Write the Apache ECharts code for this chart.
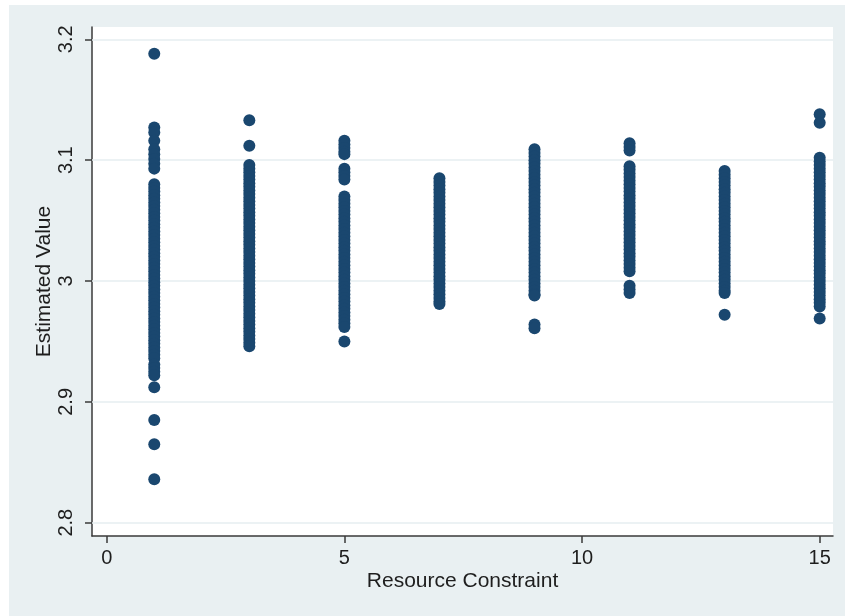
<!DOCTYPE html>
<html>
<head>
<meta charset="utf-8">
<script src="https://cdn.jsdelivr.net/npm/echarts@6/dist/echarts.min.js"></script>
<style>
  html, body { margin: 0; padding: 0; background: #ffffff; }
  #chart { position: absolute; left: 9px; top: 5px; width: 836px; height: 611px; }
</style>
</head>
<body>
<div id="chart"></div>
<script>
// Resource constraint levels (x positions of the columns)
const constraints = [1, 3, 5, 7, 9, 11, 13, 15];

// Estimated values read from each column
const val1 = [3.188, 3.127, 3.123, 3.116, 3.109, 3.105, 3.101, 3.097, 3.093,
  3.080, 3.077, 3.074, 3.071, 3.068, 3.065, 3.062, 3.059, 3.056, 3.053, 3.050, 3.047,
  3.044, 3.041, 3.038, 3.035, 3.032, 3.029, 3.026, 3.023, 3.020, 3.017, 3.014, 3.011,
  3.008, 3.005, 3.002, 2.999, 2.996, 2.993, 2.990, 2.987, 2.984, 2.981, 2.978, 2.975,
  2.972, 2.969, 2.966, 2.963, 2.960, 2.957, 2.954, 2.951, 2.948, 2.945, 2.942, 2.939,
  2.936, 2.931, 2.928, 2.925, 2.922, 2.912, 2.885, 2.865, 2.836];
const val3 = [3.133, 3.112, 3.096, 3.093, 3.090, 3.087, 3.084, 3.081, 3.078, 3.075,
  3.072, 3.069, 3.066, 3.063, 3.060, 3.057, 3.054, 3.051, 3.048, 3.045, 3.042, 3.039,
  3.036, 3.033, 3.030, 3.027, 3.024, 3.021, 3.018, 3.015, 3.012, 3.009, 3.006, 3.003,
  3.000, 2.997, 2.994, 2.991, 2.988, 2.985, 2.982, 2.979, 2.976, 2.973, 2.970, 2.967,
  2.964, 2.961, 2.958, 2.955, 2.952, 2.949, 2.946];
const val5 = [3.116, 3.113, 3.110, 3.107, 3.105, 3.093, 3.090, 3.087, 3.084,
  3.070, 3.067, 3.064, 3.061, 3.058, 3.055, 3.052, 3.049, 3.046, 3.043, 3.040, 3.037,
  3.034, 3.031, 3.028, 3.025, 3.022, 3.019, 3.016, 3.013, 3.010, 3.007, 3.004, 3.001,
  2.998, 2.995, 2.992, 2.989, 2.986, 2.983, 2.980, 2.977, 2.974, 2.971, 2.968, 2.965,
  2.962, 2.950];
const val7 = [3.085, 3.082, 3.079, 3.076, 3.073, 3.070, 3.067, 3.064, 3.061, 3.058,
  3.055, 3.052, 3.049, 3.046, 3.043, 3.040, 3.037, 3.034, 3.031, 3.028, 3.025, 3.022,
  3.019, 3.016, 3.013, 3.010, 3.007, 3.004, 3.001, 2.998, 2.995, 2.992, 2.989, 2.986,
  2.983, 2.981];
const val9 = [3.109, 3.106, 3.103, 3.100, 3.097, 3.094, 3.091, 3.088, 3.085, 3.082,
  3.079, 3.076, 3.073, 3.070, 3.067, 3.064, 3.061, 3.058, 3.055, 3.052, 3.049, 3.046,
  3.043, 3.040, 3.037, 3.034, 3.031, 3.028, 3.025, 3.022, 3.019, 3.016, 3.013, 3.010,
  3.007, 3.004, 3.001, 2.998, 2.995, 2.992, 2.989, 2.988, 2.964, 2.961];
const val11 = [3.114, 3.111, 3.108, 3.095, 3.092, 3.089, 3.086, 3.083, 3.080, 3.077,
  3.074, 3.071, 3.068, 3.065, 3.062, 3.059, 3.056, 3.053, 3.050, 3.047, 3.044, 3.041,
  3.038, 3.035, 3.032, 3.029, 3.026, 3.023, 3.020, 3.017, 3.014, 3.011, 3.008,
  2.996, 2.993, 2.990];
const val13 = [3.091, 3.088, 3.085, 3.082, 3.079, 3.076, 3.073, 3.070, 3.067, 3.064,
  3.061, 3.058, 3.055, 3.052, 3.049, 3.046, 3.043, 3.040, 3.037, 3.034, 3.031, 3.028,
  3.025, 3.022, 3.019, 3.016, 3.013, 3.010, 3.007, 3.004, 3.001, 2.998, 2.995, 2.992,
  2.990, 2.972];
const val15 = [3.138, 3.131, 3.102, 3.099, 3.096, 3.093, 3.090, 3.087, 3.084, 3.081,
  3.078, 3.075, 3.072, 3.069, 3.066, 3.063, 3.060, 3.057, 3.054, 3.051, 3.048, 3.045,
  3.042, 3.039, 3.036, 3.033, 3.030, 3.027, 3.024, 3.021, 3.018, 3.015, 3.012, 3.009,
  3.006, 3.003, 3.000, 2.997, 2.994, 2.991, 2.988, 2.985, 2.982, 2.979, 2.969];

const columns = [val1, val3, val5, val7, val9, val11, val13, val15];

// Tick labels
const xTicks = [0, 5, 10, 15];
const yTicks = [2.8, 2.9, 3.0, 3.1, 3.2];
const yTickLabels = ['2.8', '2.9', '3', '3.1', '3.2'];

const points = [];
constraints.forEach((c, i) => columns[i].forEach(v => points.push([c, v])));

const FONT = "'Liberation Sans', Arial, sans-serif";
const TXT = '#1e1e1e';
const AXIS = '#3a3a3a';

const chart = echarts.init(document.getElementById('chart'), null, { renderer: 'canvas' });
chart.setOption({
  backgroundColor: '#e9f0f2',
  animation: false,
  grid: { left: 83, top: 22, right: 12, bottom: 80, show: true, backgroundColor: '#ffffff', borderWidth: 0 },
  xAxis: {
    type: 'value',
    min: -0.31, max: 15.28,
    name: 'Resource Constraint',
    nameLocation: 'middle',
    nameGap: 35,
    nameMoveOverlap: false,
    nameTextStyle: { fontFamily: FONT, fontSize: 21, color: TXT },
    axisLine: { show: true, onZero: false, lineStyle: { color: AXIS, width: 1.5 } },
    axisTick: { show: true, length: 7, customValues: xTicks, lineStyle: { color: AXIS, width: 1.5 } },
    axisLabel: { customValues: xTicks, fontFamily: FONT, fontSize: 20, color: TXT, margin: 12 },
    splitLine: { show: false }
  },
  yAxis: {
    type: 'value',
    min: 2.789, max: 3.2102,
    name: 'Estimated Value',
    nameLocation: 'middle',
    nameRotate: 90,
    nameGap: 37,
    nameMoveOverlap: false,
    nameTextStyle: { fontFamily: FONT, fontSize: 21, color: TXT },
    axisLine: { show: true, onZero: false, lineStyle: { color: AXIS, width: 1.5 } },
    axisTick: { show: true, length: 7, customValues: yTicks, lineStyle: { color: AXIS, width: 1.5 } },
    axisLabel: {
      customValues: yTicks,
      rotate: 90,
      fontFamily: FONT, fontSize: 20, color: TXT, margin: 16,
      formatter: v => yTickLabels[yTicks.findIndex(t => Math.abs(t - v) < 1e-9)] ?? String(v)
    },
    splitLine: { show: false }
  },
  series: [{
    type: 'scatter',
    symbol: 'circle',
    symbolSize: 12,
    itemStyle: { color: '#1a476f', opacity: 1 },
    data: points,
    markLine: {
      silent: true,
      symbol: 'none',
      label: { show: false },
      lineStyle: { color: '#e6eef1', width: 1.5, type: 'solid' },
      data: yTicks.map(t => ({ yAxis: t })),
      z: 1
    },
    z: 3
  }]
});
</script>
</body>
</html>
